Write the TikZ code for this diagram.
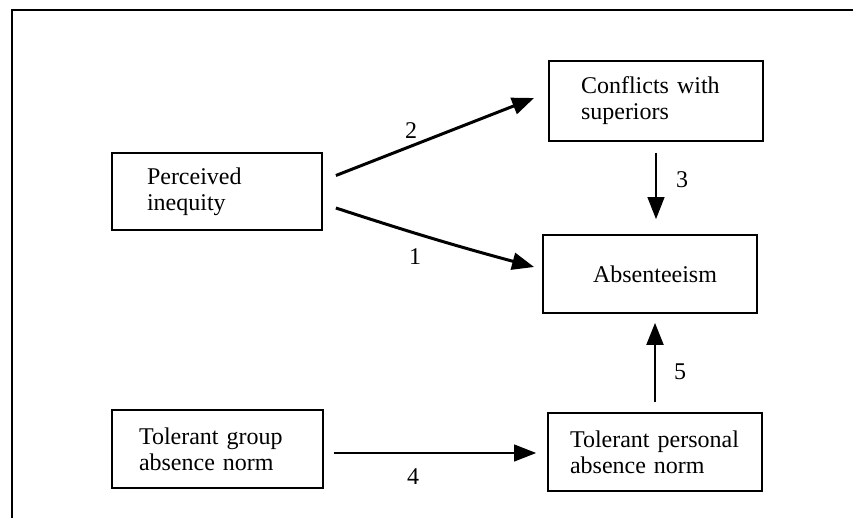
\documentclass[tikz,border=0pt]{standalone}
\usepackage{fontspec}
\setmainfont{Liberation Serif}
\usetikzlibrary{arrows.meta}
\begin{document}
\begin{tikzpicture}[x=1pt,y=-1pt,
  box/.style={draw,line width=1.8pt,rectangle,inner ysep=0pt,minimum height=78pt,
    font=\fontsize{24}{26}\selectfont,align=left},
  lab/.style={font=\fontsize{24}{26}\selectfont,inner sep=0pt},
  arr/.style={-{Triangle[length=22pt,width=17pt]}},
]
\useasboundingbox (0,0) rectangle (853,518);
\draw[line width=2.2pt] (853,10) -- (12,10) -- (12,518);

\node[box, inner xsep=35pt, text width=140pt, minimum height=77pt] (perc) at (217,191.5) {Perceived\\inequity};
\node[box, inner xsep=32pt, text width=150pt, minimum height=80pt] (conf) at (656,101) {Conflicts with\\superiors};
\node[box, inner xsep=0pt, text width=214pt, align=center] (abs) at (650,274) {\hspace*{10pt}Absenteeism};
\node[box, inner xsep=27pt, text width=157pt] (tgrp) at (217.5,449) {Tolerant group\\absence norm};
\node[box, inner xsep=22pt, text width=170pt] (tper) at (655,452) {Tolerant personal\\absence norm};

\draw[arr, line width=3pt] ([shift={(13,-16)}]perc.east) -- ([shift={(-14,-3)}]conf.west);
\draw[arr, line width=3pt] ([shift={(13,16.5)}]perc.east) to[bend right=1.5] ([shift={(-8,-7)}]abs.west);
\draw[arr, line width=1.3pt] ([shift={(0,11)}]conf.south) -- ([shift={(6,-15)}]abs.north);
\draw[arr, line width=1.1pt] ([shift={(10,4)}]tgrp.east) -- ([shift={(-11,1)}]tper.west);
\draw[arr, line width=2pt] ([shift={(0,-10)}]tper.north) -- ([shift={(5,9)}]abs.south);

\node[lab] (l1) at (415,257) {1};
\node[lab] (l2) at (411,131) {2};
\node[lab] (l3) at (682,180) {3};
\node[lab] (l4) at (413,477) {4};
\node[lab] (l5) at (680,372) {5};
\end{tikzpicture}
\end{document}
